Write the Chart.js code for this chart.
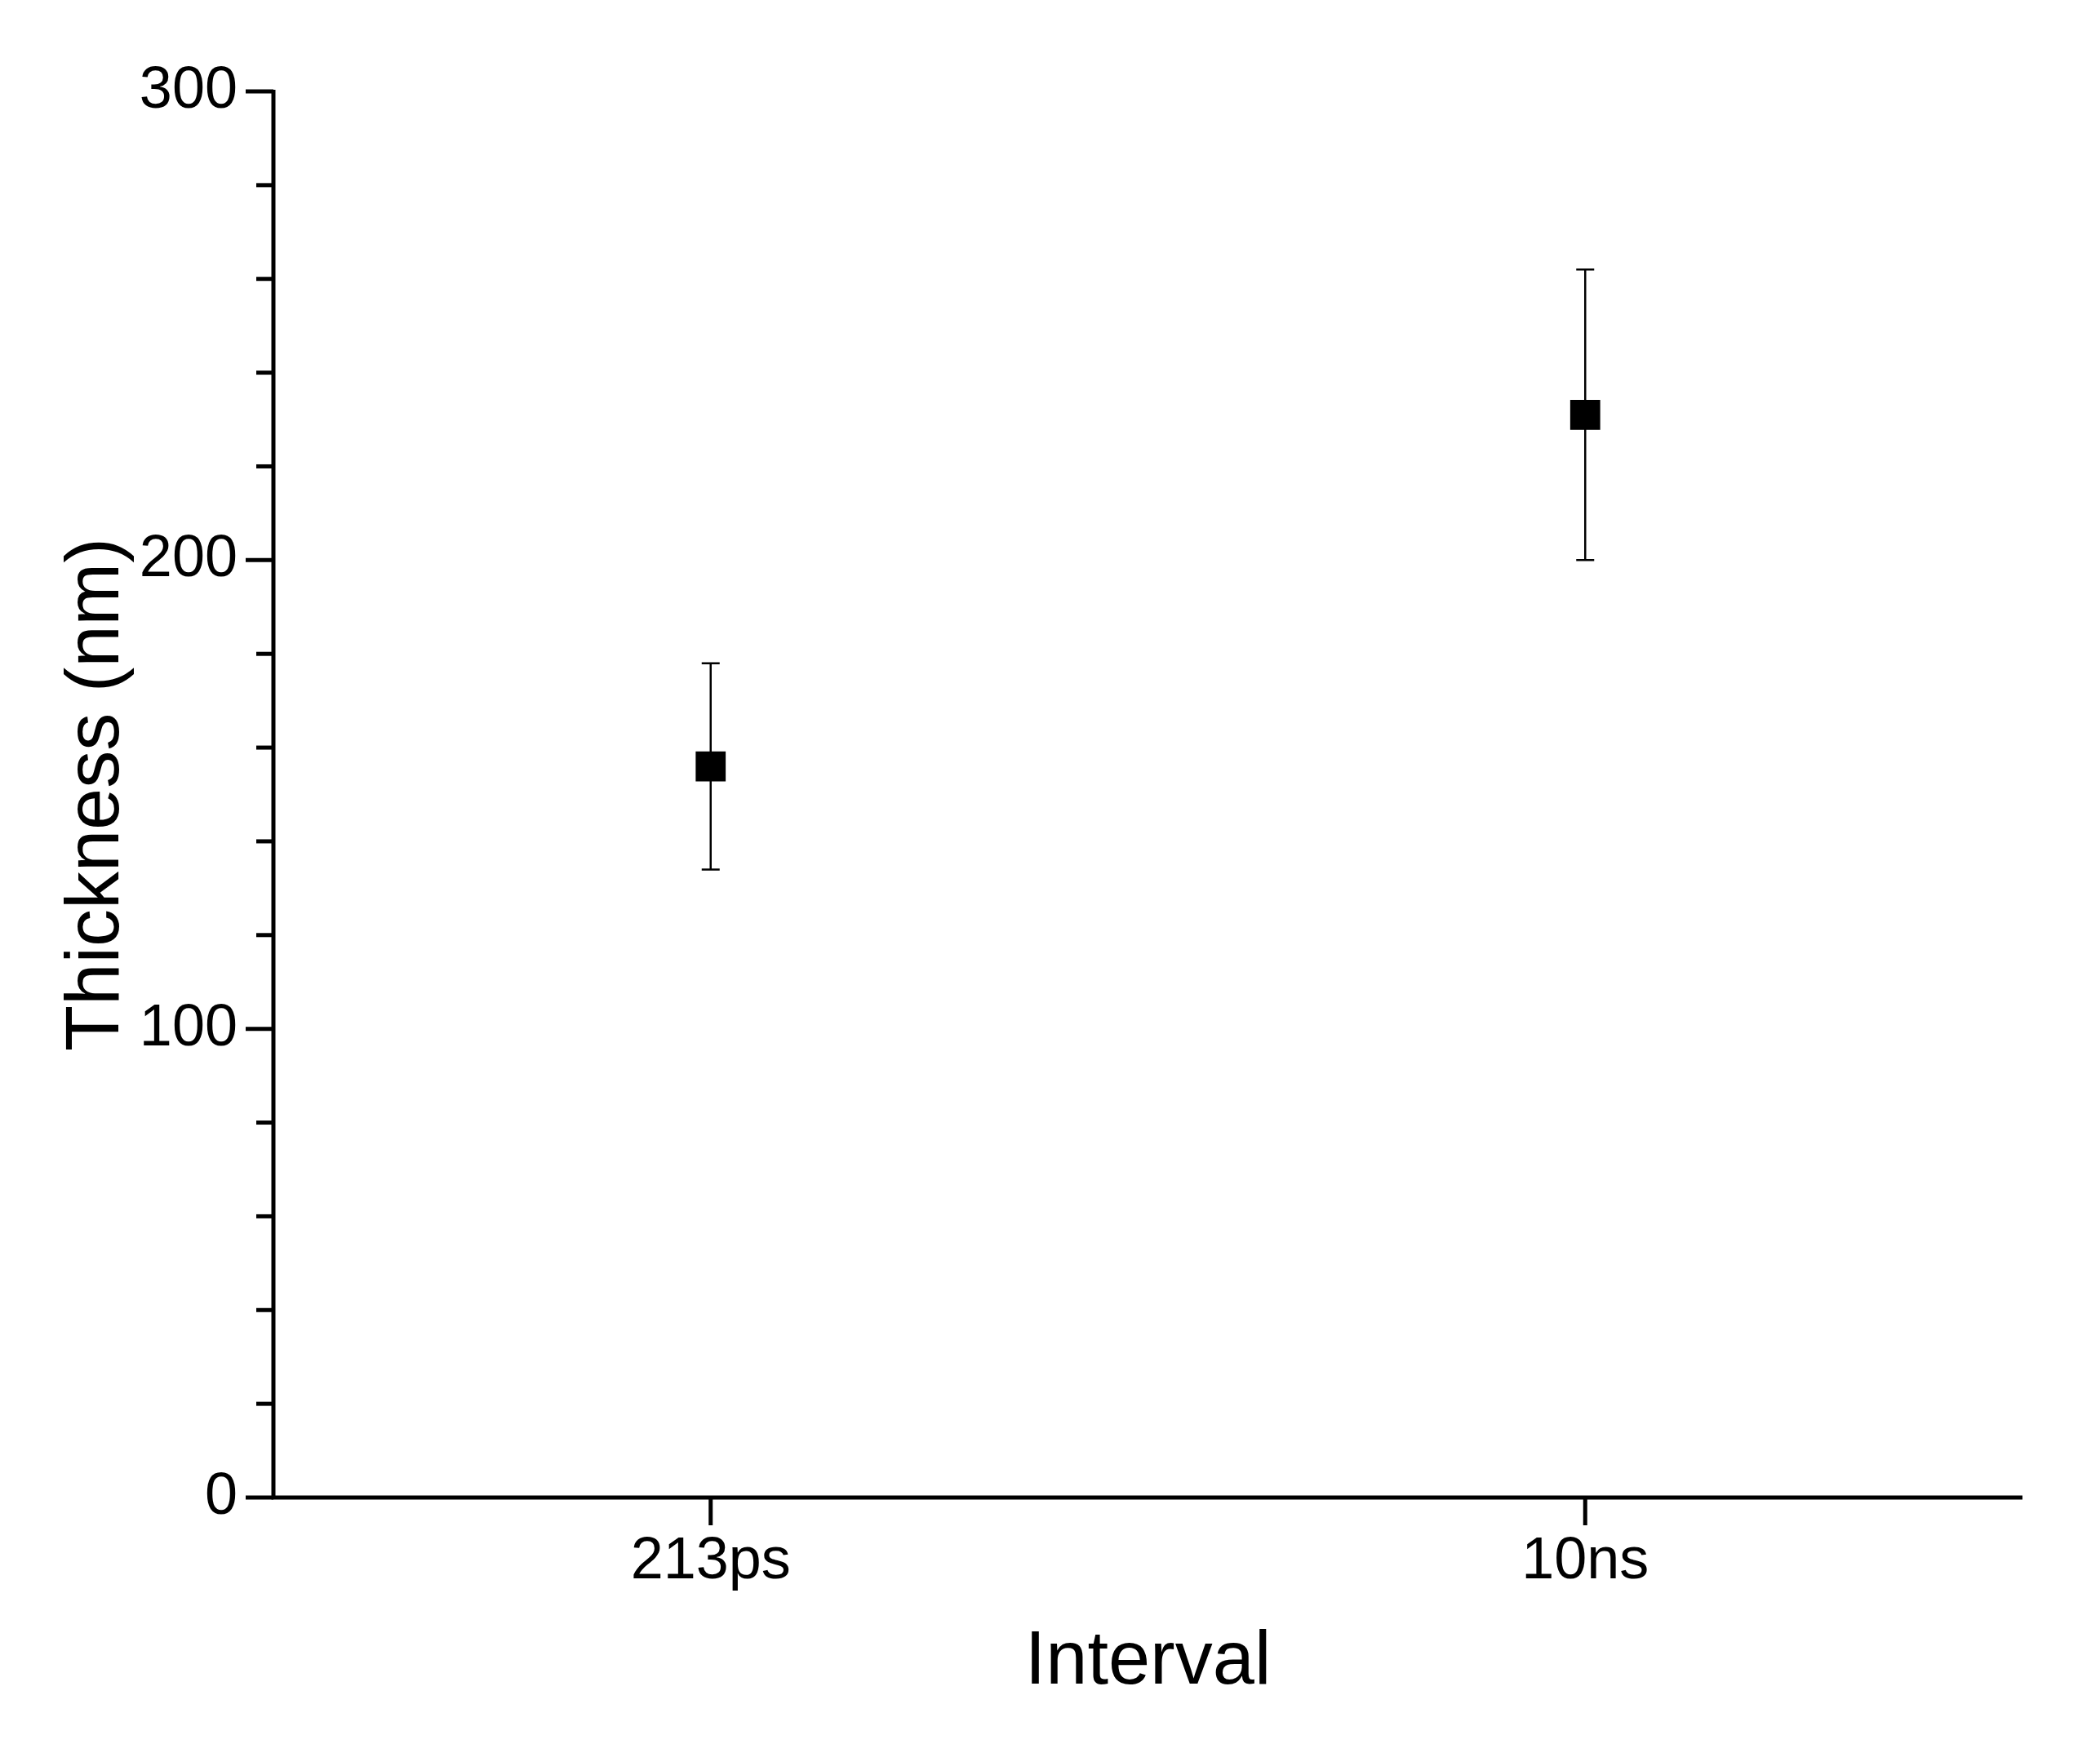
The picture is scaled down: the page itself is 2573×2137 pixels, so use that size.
<!DOCTYPE html>
<html>
<head>
<meta charset="utf-8">
<script src="https://cdn.jsdelivr.net/npm/chart.js@4"></script>
<style>body{margin:0;background:#fff}canvas{display:block}</style>
</head>
<body>
<canvas id="c" width="2573" height="2137"></canvas>
<script>
const categories = ['213ps', '10ns'];
const thickness = [156, 231];
const errUpper = [178, 262];
const errLower = [134, 200];

const font = 'Arial, "Liberation Sans", sans-serif';

const axisPlugin = {
	id: 'axisDraw',
	afterDatasetsDraw(chart) {
		const ctx = chart.ctx, x = chart.scales.x, y = chart.scales.y;
		const area = chart.chartArea;
		ctx.save();
		ctx.strokeStyle = '#000';
		// error bars
		ctx.lineWidth = 2.5;
		categories.forEach((c, i) => {
			const px = x.getPixelForValue(i);
			const top = y.getPixelForValue(errUpper[i]);
			const bot = y.getPixelForValue(errLower[i]);
			ctx.beginPath();
			ctx.moveTo(px, top); ctx.lineTo(px, bot);
			ctx.moveTo(px - 11, top); ctx.lineTo(px + 11, top);
			ctx.moveTo(px - 11, bot); ctx.lineTo(px + 11, bot);
			ctx.stroke();
		});
		// axes
		ctx.lineWidth = 5;
		ctx.beginPath();
		ctx.moveTo(area.left, area.top - 2);
		ctx.lineTo(area.left, area.bottom);
		ctx.lineTo(area.right, area.bottom);
		ctx.stroke();
		// y ticks
		for (let v = 0; v <= 300; v += 20) {
			const py = y.getPixelForValue(v);
			const len = v % 100 === 0 ? 34 : 21;
			ctx.beginPath();
			ctx.moveTo(area.left, py); ctx.lineTo(area.left - len, py);
			ctx.stroke();
		}
		// x ticks
		categories.forEach((c, i) => {
			const px = x.getPixelForValue(i);
			ctx.beginPath();
			ctx.moveTo(px, area.bottom); ctx.lineTo(px, area.bottom + 34);
			ctx.stroke();
		});
		ctx.restore();
	}
};

new Chart(document.getElementById('c'), {
	type: 'line',
	data: {
		labels: categories,
		datasets: [{
			data: thickness,
			showLine: false,
			pointStyle: 'rect',
			pointRadius: 26,
			pointHoverRadius: 26,
			backgroundColor: '#000',
			borderColor: '#000',
			borderWidth: 0
		}]
	},
	options: {
		responsive: false,
		devicePixelRatio: 1,
		animation: false,
		layout: { padding: { top: 112, right: 95, left: 60, bottom: 40 } },
		plugins: { legend: { display: false }, tooltip: { enabled: false } },
		scales: {
			x: {
				type: 'category',
				offset: true,
				grid: { display: false, drawTicks: false },
				border: { display: false },
				ticks: { color: '#000', font: { family: font, size: 72 }, padding: 36 },
				title: { display: true, text: 'Interval', color: '#000', font: { family: font, size: 92 }, padding: { top: 20 } },
				afterFit(s) { s.height = 262; }
			},
			y: {
				min: 0, max: 300,
				grid: { display: false, drawTicks: false },
				border: { display: false },
				ticks: {
					stepSize: 100, color: '#000', font: { family: font, size: 72 }, padding: 44
				},
				title: { display: true, text: 'Thickness (nm)', color: '#000', font: { family: font, size: 92 }, padding: { bottom: 10 } },
				afterFit(s) { s.width = 275; }
			}
		}
	},
	plugins: [axisPlugin]
});
</script>
</body>
</html>
